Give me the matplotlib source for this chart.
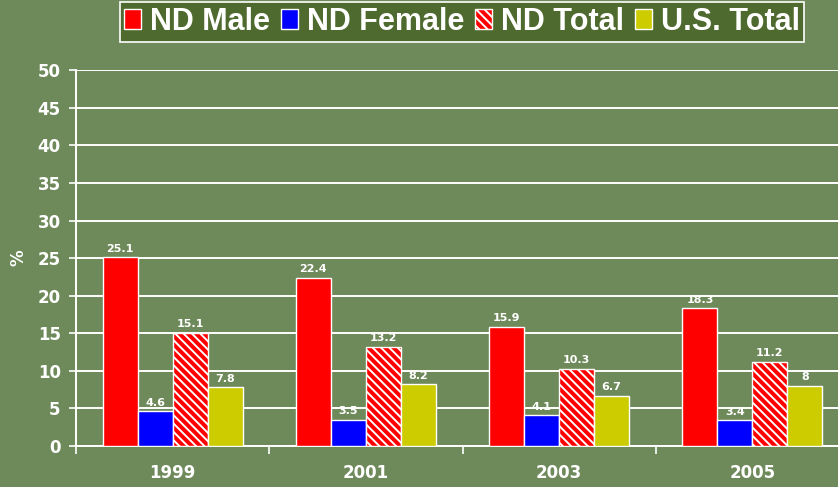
import matplotlib
matplotlib.use("Agg")
import matplotlib.pyplot as plt
from matplotlib.patches import Patch
import numpy as np

years = ["1999", "2001", "2003", "2005"]
series_names = ["ND Male", "ND Female", "ND Total", "U.S. Total"]
nd_male = [25.1, 22.4, 15.9, 18.3]
nd_female = [4.6, 3.5, 4.1, 3.4]
nd_total = [15.1, 13.2, 10.3, 11.2]
us_total = [7.8, 8.2, 6.7, 8]
y_ticks = [0, 5, 10, 15, 20, 25, 30, 35, 40, 45, 50]

bg = "#6f8a5a"
colors = ["#ff0000", "#0000ff", "#ff0000", "#cccc00"]
hatches = [None, None, "\\\\\\\\", None]

plt.rcParams["hatch.linewidth"] = 1.4

fig = plt.figure(figsize=(8.38, 4.87), dpi=100, facecolor=bg)
ax = fig.add_axes([76 / 838, 1 - 446 / 487, 773 / 838, 375.7 / 487])
ax.set_facecolor(bg)

x = np.arange(len(years))
w = 0.181
data = [nd_male, nd_female, nd_total, us_total]
for i, vals in enumerate(data):
    offs = (i - 1.5) * w
    bars = ax.bar(x + offs, vals, w, color=colors[i], edgecolor="white",
                  linewidth=1.0, hatch=hatches[i], zorder=3)
    for b, v in zip(bars, vals):
        ax.annotate(f"{v:g}", (b.get_x() + b.get_width() / 2, v),
                    xytext=(0, 2.5), textcoords="offset points",
                    ha="center", va="bottom", color="white",
                    fontsize=8, fontweight="bold", family="DejaVu Sans", zorder=4)

ax.set_xlim(-0.5, len(years) - 0.5)
ax.set_ylim(0, 50)
ax.set_yticks(y_ticks)
ax.set_yticklabels([str(t) for t in y_ticks])
ax.yaxis.grid(True, color="white", linewidth=1.4, zorder=0)
ax.set_axisbelow(True)

ax.set_xticks(x)
ax.set_xticklabels(years)
ax.set_xticks(np.arange(len(years) + 1) - 0.5, minor=True)
ax.tick_params(axis="x", which="major", length=0, pad=13)
ax.tick_params(axis="x", which="minor", length=6, color="white", width=1.2, direction="out")
ax.tick_params(axis="y", length=5, color="white", width=1.2, pad=6)

for lab in ax.get_xticklabels() + ax.get_yticklabels():
    lab.set_color("white")
    lab.set_fontsize(12)
    lab.set_fontweight("bold")
    lab.set_family("DejaVu Sans")

for s in ["top", "right"]:
    ax.spines[s].set_visible(False)
for s in ["left", "bottom"]:
    ax.spines[s].set_color("white")
    ax.spines[s].set_linewidth(1.4)

fig.text(18 / 838, 1 - 258 / 487, "%", rotation=90, color="white",
         fontsize=12, fontweight="bold", family="DejaVu Sans", ha="center", va="center")

handles = [Patch(facecolor=colors[i], edgecolor="white", hatch=hatches[i], linewidth=1.0)
           for i in range(4)]
leg = fig.legend(handles, series_names, loc="center", ncol=4,
                 bbox_to_anchor=(462 / 838, 1 - 22 / 487),
                 frameon=True,
                 prop={"family": "Liberation Sans", "size": 22, "weight": "bold"},
                 handlelength=0.55, handleheight=0.62, handletextpad=0.28,
                 columnspacing=0.38, borderpad=0.15, borderaxespad=0,
                 fancybox=False)
leg.get_frame().set_facecolor("#4f6a2e")
leg.get_frame().set_edgecolor("white")
leg.get_frame().set_linewidth(1.2)
leg.get_frame().set_alpha(1)
for t in leg.get_texts():
    t.set_color("white")

fig.savefig("out.png", dpi=100, facecolor=bg)
